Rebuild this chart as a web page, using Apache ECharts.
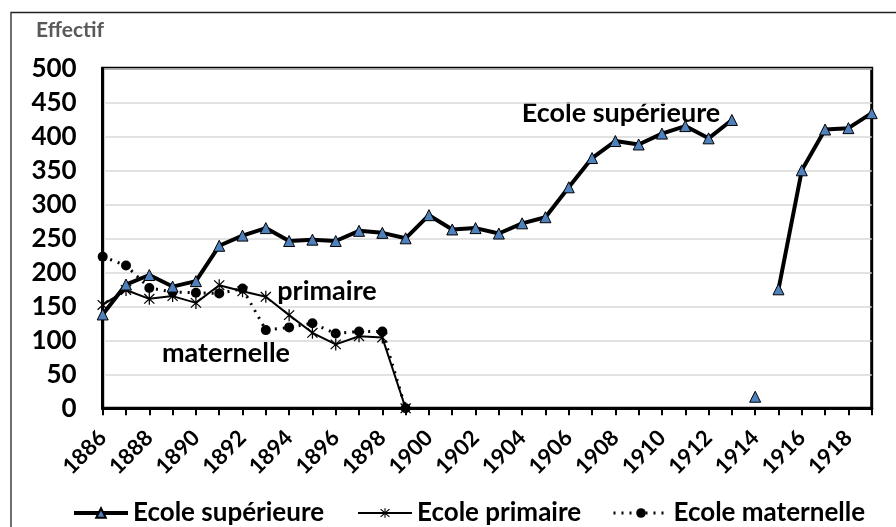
<!DOCTYPE html>
<html>
<head>
<meta charset="utf-8">
<script src="https://cdn.jsdelivr.net/npm/echarts@6/dist/echarts.min.js"></script>
<style>html,body{margin:0;padding:0;background:#fff}#c{width:896px;height:527px}</style>
</head>
<body>
<div id="c"></div>
<script>
const years = ['1886','1887','1888','1889','1890','1891','1892','1893','1894','1895','1896','1897','1898','1899','1900','1901','1902','1903','1904','1905','1906','1907','1908','1909','1910','1911','1912','1913','1914','1915','1916','1917','1918','1919'];
const superieure = [138,182,196,179,187,239,254,265,246,248,246,261,258,250,284,263,265,257,272,281,325,368,393,388,404,415,397,424,null,175,350,410,412,434];
const superieureIsole = [null,null,null,null,null,null,null,null,null,null,null,null,null,null,null,null,null,null,null,null,null,null,null,null,null,null,null,null,17,null,null,null,null,null];
const primaire = [152,174,161,165,155,181,172,164,137,111,94,106,104,0,null,null,null,null,null,null,null,null,null,null,null,null,null,null,null,null,null,null,null,null];
const maternelle = [223,210,177,171,170,169,176,115,119,125,110,113,113,0,null,null,null,null,null,null,null,null,null,null,null,null,null,null,null,null,null,null,null,null];
const yTicks = {min:0, max:500, interval:50};

const FONT = 'Lato';
const star = 'path://M-1,-10L1,-10L1,10L-1,10Z M-7.3,-8.7L8.7,7.3L7.3,8.7L-8.7,-7.3Z M8.7,-7.3L-7.3,8.7L-8.7,7.3L7.3,-8.7Z';
const triColor = '#4f81bd';

const chart = echarts.init(document.getElementById('c'), null, {renderer:'canvas'});
const legendText = {fontFamily:FONT, fontWeight:'bold', fontSize:26, color:'#000'};
chart.setOption({
  animation:false,
  backgroundColor:'#fff',
  grid:{left:102.7, right:24.3, top:68.3, bottom:118.7, show:true, borderColor:'#000', borderWidth:3, backgroundColor:'transparent'},
  legend:[
    {data:['Ecole supérieure'], left:72, top:500, padding:0, itemWidth:54, itemHeight:12, itemGap:0, textStyle:legendText, lineStyle:{width:4}},
    {data:['Ecole primaire'], left:357, top:500, padding:0, itemWidth:54, itemHeight:12, itemGap:0, textStyle:legendText, lineStyle:{width:2}},
    {data:['Ecole maternelle'], left:612, top:500, padding:0, itemWidth:55, itemHeight:12, itemGap:0, textStyle:legendText, lineStyle:{width:3}}
  ],
  xAxis:{
    type:'category', data:years, boundaryGap:false,
    axisLine:{show:true, lineStyle:{color:'#000', width:3}},
    axisTick:{show:true, interval:0, length:7, lineStyle:{color:'#000', width:2}},
    axisLabel:{interval:1, rotate:45, margin:26, fontFamily:FONT, fontWeight:'bold', fontSize:22, color:'#000'},
    splitLine:{show:false}
  },
  yAxis:{
    type:'value', min:yTicks.min, max:yTicks.max, interval:yTicks.interval,
    axisLine:{show:true, lineStyle:{color:'#000', width:3}},
    axisTick:{show:false},
    axisLabel:{margin:26, fontFamily:FONT, fontWeight:'bold', fontSize:26, color:'#000'},
    splitLine:{show:true, lineStyle:{color:'#d9d9d9', width:1.5}}
  },
  graphic:[
    {type:'rect', shape:{x:11, y:12.5, width:900, height:540}, style:{fill:'none', stroke:'#222', lineWidth:1.3}, z:-1},
    {type:'text', x:36, y:20, style:{text:'Effectif', fontFamily:FONT, fontWeight:'bold', fontSize:21, fill:'#595959'}},
    {type:'text', x:621, y:113, style:{text:'Ecole supérieure', fontFamily:FONT, fontWeight:'bold', fontSize:27, fill:'#000', textAlign:'center', textVerticalAlign:'middle'}},
    {type:'text', x:327, y:291, style:{text:'primaire', fontFamily:FONT, fontWeight:'bold', fontSize:27, fill:'#000', textAlign:'center', textVerticalAlign:'middle'}},
    {type:'text', x:226, y:353, style:{text:'maternelle', fontFamily:FONT, fontWeight:'bold', fontSize:27, fill:'#000', textAlign:'center', textVerticalAlign:'middle'}}
  ],
  series:[
    {name:'Ecole supérieure', type:'line', data:superieure, connectNulls:false,
      symbol:'triangle', symbolSize:11, showAllSymbol:true,
      lineStyle:{color:'#000', width:4},
      itemStyle:{color:triColor, borderColor:'#000', borderWidth:1}, z:4},
    {name:'Ecole supérieure isolé', type:'line', data:superieureIsole,
      symbol:'triangle', symbolSize:11, showAllSymbol:true,
      lineStyle:{color:'#000', width:4},
      itemStyle:{color:triColor, borderColor:'#000', borderWidth:1}, z:4},
    {name:'Ecole primaire', type:'line', data:primaire, connectNulls:false,
      symbol:star, symbolSize:[11,12], showAllSymbol:true,
      lineStyle:{color:'#000', width:2},
      itemStyle:{color:'#000', borderWidth:0}, z:3},
    {name:'Ecole maternelle', type:'line', data:maternelle, connectNulls:false,
      symbol:'circle', symbolSize:10, showAllSymbol:true,
      lineStyle:{color:'#000', width:3, type:[2,6]},
      itemStyle:{color:'#000', borderWidth:0}, z:3}
  ]
});
</script>
</body>
</html>
